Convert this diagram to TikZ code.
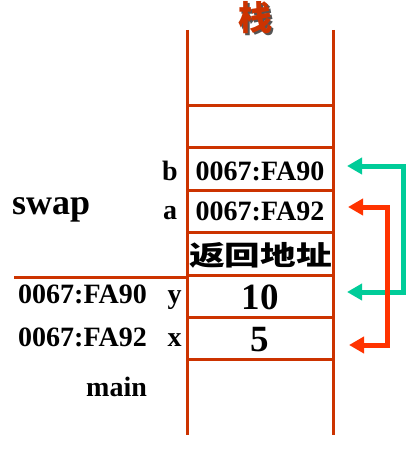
\documentclass[tikz,border=0pt]{standalone}
\usepackage{fontspec}
\setmainfont{Liberation Serif}
\newfontfamily\cjk{Noto Sans CJK SC}
\usetikzlibrary{arrows.meta}
\definecolor{stackc}{HTML}{CC3300}
\definecolor{redar}{HTML}{FF3300}
\definecolor{greenar}{HTML}{00CC99}
\definecolor{shadowc}{HTML}{555555}
\tikzset{
  wall/.style={draw=stackc, line width=3pt},
  lbl/.style={inner sep=0pt, font=\bfseries\fontsize{28}{30}\selectfont, anchor=base west},
  celltxt/.style={inner sep=0pt, font=\bfseries\fontsize{28}{30}\selectfont, anchor=base},
  bignum/.style={inner sep=0pt, font=\bfseries\fontsize{37}{40}\selectfont, anchor=base},
  ptrarrow/.style={line width=5pt, line join=miter, {Triangle[length=15pt,width=16pt]}-{Triangle[length=15pt,width=16pt]}}
}
\begin{document}
\begin{tikzpicture}[x=1pt,y=-1pt]
\useasboundingbox (0,0) rectangle (418,460);
\fill[white] (0,0) rectangle (418,460);
% title with shadow
\node[inner sep=0pt, text=stackc, font=\cjk\bfseries\fontsize{34}{36}\selectfont] (title) at (255.5,18.5)
  {\rlap{\hspace{2pt}\raisebox{-2pt}{\textcolor{shadowc}{栈}}}栈};
% stack walls
\draw[wall] (187,30) -- (187,435);
\draw[wall] (333,30) -- (333,435);
\foreach \yy in {105,147,190,232,275,317,359}{
  \draw[wall] (187,\yy) -- (333,\yy);
}
\draw[wall] (14,277) -- (187,277);
% cell texts
\node[celltxt] (cellb) at (260,180) {0067:FA90};
\node[celltxt] (cella) at (260,220) {0067:FA92};
\node[inner sep=0pt, font=\cjk\bfseries\fontsize{27}{29}\selectfont] (ret) at (260.5,255) {\scalebox{1.32}[1]{返回地址}};
\node[bignum] (celly) at (260,309) {10};
\node[bignum] (cellx) at (260,351) {5};
% left labels
\node[lbl] (lb) at (162,180) {b};
\node[lbl] (la) at (163,219) {a};
\node[lbl, font=\bfseries\fontsize{36}{38}\selectfont] (lswap) at (12,214) {swap};
\node[lbl] (ly) at (18,303) {0067:FA90\hspace{0.75em}y};
\node[lbl] (lx) at (18,346) {0067:FA92\hspace{0.75em}x};
\node[lbl] (lmain) at (86,396) {main};
% arrow ends
\coordinate (gb) at (347,166);
\coordinate (gy) at (347,292);
\coordinate (ra) at (348,207);
\coordinate (rx) at (349,345);
\draw[ptrarrow, draw=greenar] (gb) -- (403,166) -- (403,292) -- (gy);
\draw[ptrarrow, draw=redar] (ra) -- (387,207) -- (387,345) -- (rx);
\end{tikzpicture}
\end{document}
